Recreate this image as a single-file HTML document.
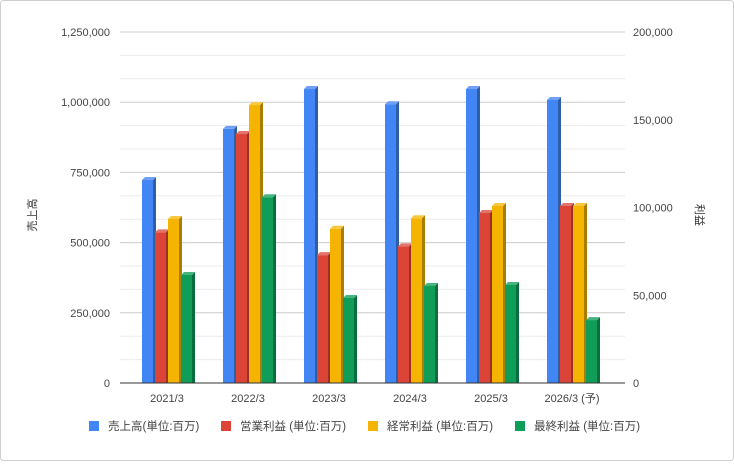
<!DOCTYPE html>
<html><head><meta charset="utf-8"><style>
html,body{margin:0;padding:0;background:#fff}
body{width:734px;height:461px;overflow:hidden}
svg{font-family:"Liberation Sans","Noto Sans CJK JP",sans-serif}
</style></head><body>
<svg id="c" width="734" height="461">
<rect x="0.5" y="0.5" width="733" height="460" rx="3" fill="#fff" stroke="#cfcfcf"/>
</svg>
<script>
const categories=["2021/3","2022/3","2023/3","2024/3","2025/3","2026/3 (予)"];
const sales=[730000,912000,1054000,1000000,1054000,1015000];
const opProfit=[87000,143000,74000,79000,98000,102000];
const ordProfit=[94600,159500,89000,95000,102000,102000];
const netProfit=[62700,107000,49600,56400,57000,37000];
const leftTicks=[0,250000,500000,750000,1000000,1250000];
const rightTicks=[0,50000,100000,150000,200000];
const legendLabels=["売上高(単位:百万)","営業利益 (単位:百万)","経常利益 (単位:百万)","最終利益 (単位:百万)"];

const NS="http://www.w3.org/2000/svg",svg=document.getElementById('c');
const y0=383,yTop=32,xL=120,xR=625;
const yL=v=>y0-(v/1250000)*(y0-yTop);
const yR=v=>y0-(v/200000)*(y0-yTop);
const xC=i=>167+i*81;
function mk(t,a,p){const e=document.createElementNS(NS,t);for(const k in a)e.setAttribute(k,a[k]);(p||svg).appendChild(e);return e;}
for(let k=0;k<=15;k++){const v=k*250000/3;const y=yL(v);
 const g=mk('line',{x1:xL,x2:xR,y1:y,y2:y,stroke:k%3==0?'#cccccc':'#ebebeb','stroke-width':1});
 
 }
leftTicks.forEach(v=>{const t=mk('text',{x:110,y:yL(v)+4,'text-anchor':'end','font-size':11,fill:'#444'});t.textContent=v.toLocaleString('en-US');
 
 });
rightTicks.forEach(v=>{const t=mk('text',{x:633,y:yR(v)+4,'text-anchor':'start','font-size':11,fill:'#444'});t.textContent=v.toLocaleString('en-US');
 
 });
const colors=[["#4285f4","#2f5ea8","#6fa0f6"],["#db4437","#99302a","#e4736a"],["#f4b400","#a97d00","#f7c740"],["#0f9d58","#0a6d3d","#45b47f"]];
const series=[[sales,yL,'sales'],[opProfit,yR,'operating-profit'],[ordProfit,yR,'ordinary-profit'],[netProfit,yR,'net-profit']];
const bw=11,gap=13,d=3;
categories.forEach((c,i)=>{
 series.forEach((s,j)=>{
  const x=xC(i)-25+j*gap,y=s[1](s[0][i])+2;
  const g=mk('g',{});
  
  
  mk('rect',{x:x,y:y,width:bw,height:y0-y,fill:colors[j][0]},g);
  mk('polygon',{points:`${x+bw},${y} ${x+bw+d},${y-d} ${x+bw+d},${y0} ${x+bw},${y0}`,fill:colors[j][1]},g);
  mk('polygon',{points:`${x},${y} ${x+d},${y-d} ${x+bw+d},${y-d} ${x+bw},${y}`,fill:colors[j][2]},g);
 });
 const t=mk('text',{x:xC(i),y:402,'text-anchor':'middle','font-size':11,fill:'#444'});t.textContent=c;
 
 
});
const ax=mk('line',{x1:xL,x2:xR,y1:y0,y2:y0,stroke:'#333','stroke-width':1});


const lt=mk('text',{transform:'translate(36,215) rotate(-90)','text-anchor':'middle','font-size':11,fill:'#333'});lt.textContent='売上高';


const rt=mk('text',{transform:'translate(696,215) rotate(90)','text-anchor':'middle','font-size':11,fill:'#333'});rt.textContent='利益';


const lx=[89,221,368,515];
legendLabels.forEach((l,j)=>{
 const g=mk('g',{});
 
 
 mk('rect',{x:lx[j],y:421,width:10,height:10,fill:colors[j][0]},g);
 const t=mk('text',{x:lx[j]+19,y:430,'font-size':11.5,fill:'#444'},g);t.textContent=l;
});
</script>
</body></html>
